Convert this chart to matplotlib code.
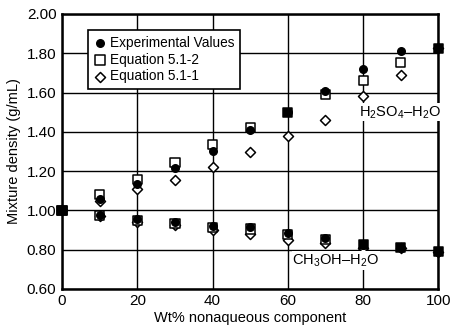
import matplotlib.pyplot as plt
import numpy as np

plt.rcParams['font.family'] = ['Liberation Sans', 'DejaVu Sans']
plt.rcParams['mathtext.fontset'] = 'custom'
plt.rcParams['mathtext.rm'] = 'Liberation Sans'

# composicao em % peso do componente nao aquoso
wt = [0, 10, 20, 30, 40, 50, 60, 70, 80, 90, 100]

# H2SO4-H2O
h2so4_exp = [1.00, 1.057, 1.133, 1.217, 1.30, 1.41, 1.50, 1.61, 1.72, 1.81, 1.825]
h2so4_eq2 = [1.00, 1.08, 1.157, 1.243, 1.335, 1.42, 1.50, 1.59, 1.66, 1.753, 1.825]
h2so4_eq1 = [1.00, 1.05, 1.107, 1.155, 1.222, 1.295, 1.378, 1.46, 1.58, 1.688, 1.825]

# CH3OH-H2O
ch3oh_exp = [1.00, 0.978, 0.956, 0.942, 0.922, 0.913, 0.885, 0.858, 0.825, 0.81, 0.79]
ch3oh_eq2 = [1.00, 0.975, 0.95, 0.935, 0.912, 0.905, 0.878, 0.852, 0.825, 0.81, 0.79]
ch3oh_eq1 = [1.00, 0.97, 0.94, 0.927, 0.90, 0.879, 0.85, 0.836, 0.81, 0.81, 0.79]

xticks = [0, 20, 40, 60, 80, 100]
yticks = [0.60, 0.80, 1.00, 1.20, 1.40, 1.60, 1.80, 2.00]

fig = plt.figure(figsize=(4.54, 3.25), dpi=100)
ax = fig.add_axes([0.1366, 0.111, 0.829, 0.846])


def plot_system(exp, eq2, eq1):
    exp = np.array(exp)
    eq2 = np.array(eq2)
    # quando a equacao coincide com o experimental o quadrado fica cheio
    fill = np.where(np.isclose(exp, eq2), 'black', 'white')
    ax.scatter(wt, eq1, marker='D', s=26, facecolors='white', edgecolors='black',
               linewidths=1.1, zorder=3, clip_on=False)
    ax.scatter(wt, eq2, marker='s', s=44, facecolors=fill, edgecolors='black',
               linewidths=1.1, zorder=3.5, clip_on=False)
    ax.scatter(wt, exp, marker='o', s=30, color='black', zorder=4, clip_on=False)


plot_system(h2so4_exp, h2so4_eq2, h2so4_eq1)
plot_system(ch3oh_exp, ch3oh_eq2, ch3oh_eq1)

ax.set_xlim(0, 100)
ax.set_ylim(0.60, 2.00)
ax.set_xticks(xticks)
ax.set_yticks(yticks)
ax.set_yticklabels([f'{v:.2f}' for v in yticks])
ax.grid(True, color='black', linewidth=1.0)
ax.set_axisbelow(True)
for s in ax.spines.values():
    s.set_linewidth(1.8)
ax.tick_params(length=0, labelsize=11, pad=4)
ax.set_xlabel('Wt% nonaqueous component', fontsize=10.5, labelpad=2)
ax.set_ylabel('Mixture density (g/mL)', fontsize=10.5, labelpad=4)

ax.text(79, 1.50, 'H$_2$SO$_4$–H$_2$O', fontsize=10.5, va='center', ha='left',
        bbox=dict(facecolor='white', edgecolor='none', pad=0.5), zorder=5)
ax.text(61.2, 0.745, 'CH$_3$OH–H$_2$O', fontsize=10.5, va='center', ha='left',
        bbox=dict(facecolor='white', edgecolor='none', pad=0.5), zorder=5)

# legenda
h1 = ax.scatter([], [], marker='o', s=30, color='black')
h2 = ax.scatter([], [], marker='s', s=44, facecolors='white', edgecolors='black', linewidths=1.1)
h3 = ax.scatter([], [], marker='D', s=26, facecolors='white', edgecolors='black', linewidths=1.1)
leg = ax.legend([h1, h2, h3], ['Experimental Values', 'Equation 5.1-2', 'Equation 5.1-1'],
                loc='upper left', bbox_to_anchor=(0.069, 0.94), fontsize=9.8,
                frameon=True, fancybox=False, framealpha=1, edgecolor='black',
                handletextpad=0.2, handlelength=1.0, borderpad=0.4, labelspacing=0.2,
                borderaxespad=0)
leg.get_frame().set_linewidth(1.2)
leg.set_zorder(6)

plt.savefig('out.png', dpi=100)
